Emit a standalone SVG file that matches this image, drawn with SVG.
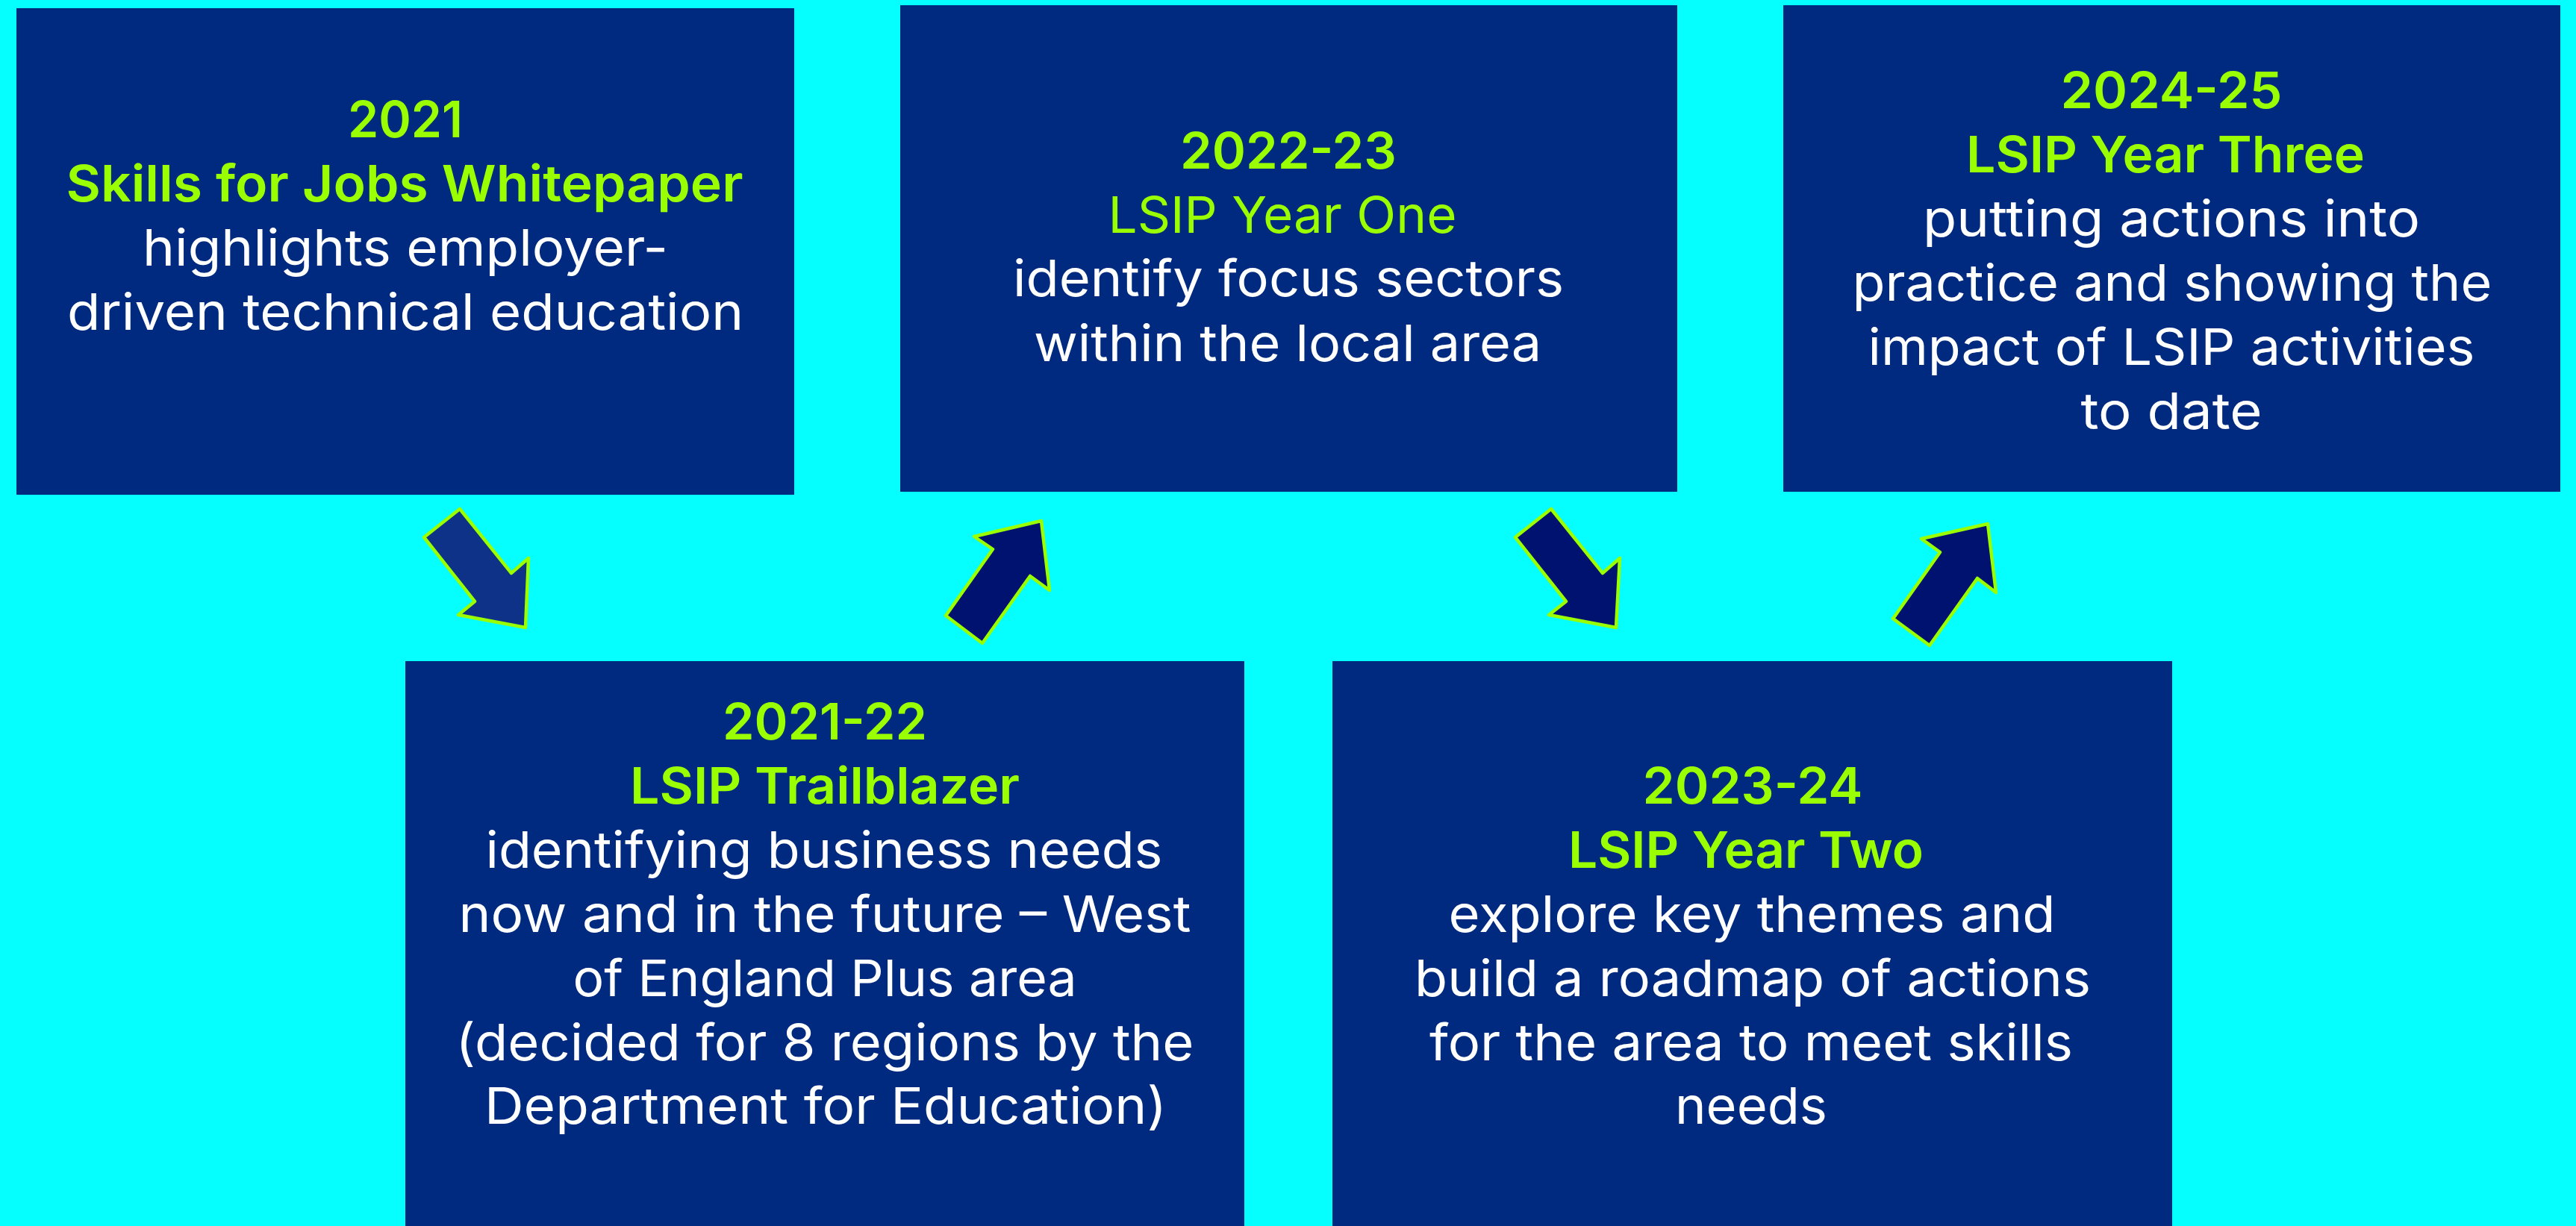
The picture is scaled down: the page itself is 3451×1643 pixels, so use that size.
<svg xmlns="http://www.w3.org/2000/svg" width="3451" height="1643" viewBox="0 0 3451 1643">
<style>
.box{fill:#002A80}
.t{font-family:Inter,"Liberation Sans",sans-serif;font-size:68px;text-anchor:middle}
.g{fill:#9AFF00;font-weight:600}
.gr{fill:#9AFF00;font-weight:400}
.w{fill:#FFFFFF;font-weight:400}
.arr{stroke:#9AFF00;stroke-width:4.5;stroke-linejoin:round}
</style>
<rect x="0" y="0" width="3451" height="1643" fill="#05FFFF"/>
<g id="connectors">
<polygon class="arr" fill="#0D3287" points="616,682 568,720 636,806 614,824 704,841 708,748 685,768"/>
<polygon class="arr" fill="#001270" points="1395,698 1305,719 1330,736 1267,825 1316,862 1380,772 1406,791"/>
<polygon class="arr" fill="#001270" points="2078,682 2030,720 2098,806 2075,824 2165,841 2170,748 2147,768"/>
<polygon class="arr" fill="#001270" points="2663,702 2574,722 2599,740 2536,829 2585,865 2649,775 2674,794"/>
</g>
<g id="node-2021">
<rect class="box" x="22" y="11" width="1042" height="652"/>
<text class="t g" x="543" y="184" textLength="154" lengthAdjust="spacingAndGlyphs">2021</text>
<text class="t g" x="542" y="270" textLength="907" lengthAdjust="spacingAndGlyphs">Skills for Jobs Whitepaper</text>
<text class="t w" x="543" y="356" textLength="704" lengthAdjust="spacingAndGlyphs">highlights employer-</text>
<text class="t w" x="543" y="442" textLength="906" lengthAdjust="spacingAndGlyphs">driven technical education</text>
</g>
<g id="node-2021-22">
<rect class="box" x="543" y="886" width="1124" height="757"/>
<text class="t g" x="1105" y="991" textLength="274" lengthAdjust="spacingAndGlyphs">2021-22</text>
<text class="t g" x="1105" y="1077" textLength="522" lengthAdjust="spacingAndGlyphs">LSIP Trailblazer</text>
<text class="t w" x="1104" y="1163" textLength="907" lengthAdjust="spacingAndGlyphs">identifying business needs</text>
<text class="t w" x="1105" y="1249" textLength="981" lengthAdjust="spacingAndGlyphs">now and in the future – West</text>
<text class="t w" x="1105" y="1335" textLength="675" lengthAdjust="spacingAndGlyphs">of England Plus area</text>
<text class="t w" x="1105" y="1421" textLength="989" lengthAdjust="spacingAndGlyphs">(decided for 8 regions by the</text>
<text class="t w" x="1106" y="1506" textLength="914" lengthAdjust="spacingAndGlyphs">Department for Education)</text>
</g>
<g id="node-2022-23">
<rect class="box" x="1206" y="7" width="1041" height="652"/>
<text class="t g" x="1726" y="226" textLength="290" lengthAdjust="spacingAndGlyphs">2022-23</text>
<text class="t gr" x="1718" y="312" textLength="467" lengthAdjust="spacingAndGlyphs">LSIP Year One</text>
<text class="t w" x="1726" y="397" textLength="738" lengthAdjust="spacingAndGlyphs">identify focus sectors</text>
<text class="t w" x="1725" y="484" textLength="680" lengthAdjust="spacingAndGlyphs">within the local area</text>
</g>
<g id="node-2023-24">
<rect class="box" x="1785" y="886" width="1125" height="757"/>
<text class="t g" x="2348" y="1077" textLength="295" lengthAdjust="spacingAndGlyphs">2023-24</text>
<text class="t g" x="2339" y="1163" textLength="476" lengthAdjust="spacingAndGlyphs">LSIP Year Two</text>
<text class="t w" x="2347" y="1249" textLength="813" lengthAdjust="spacingAndGlyphs">explore key themes and</text>
<text class="t w" x="2348" y="1335" textLength="906" lengthAdjust="spacingAndGlyphs">build a roadmap of actions</text>
<text class="t w" x="2346" y="1421" textLength="862" lengthAdjust="spacingAndGlyphs">for the area to meet skills</text>
<text class="t w" x="2346" y="1506" textLength="204" lengthAdjust="spacingAndGlyphs">needs</text>
</g>
<g id="node-2024-25">
<rect class="box" x="2389" y="7" width="1041" height="652"/>
<text class="t g" x="2909" y="145" textLength="297" lengthAdjust="spacingAndGlyphs">2024-25</text>
<text class="t g" x="2901" y="231" textLength="534" lengthAdjust="spacingAndGlyphs">LSIP Year Three</text>
<text class="t w" x="2909" y="317" textLength="666" lengthAdjust="spacingAndGlyphs">putting actions into</text>
<text class="t w" x="2910" y="403" textLength="857" lengthAdjust="spacingAndGlyphs">practice and showing the</text>
<text class="t w" x="2909" y="489" textLength="813" lengthAdjust="spacingAndGlyphs">impact of LSIP activities</text>
<text class="t w" x="2909" y="575" textLength="243" lengthAdjust="spacingAndGlyphs">to date</text>
</g>
</svg>
